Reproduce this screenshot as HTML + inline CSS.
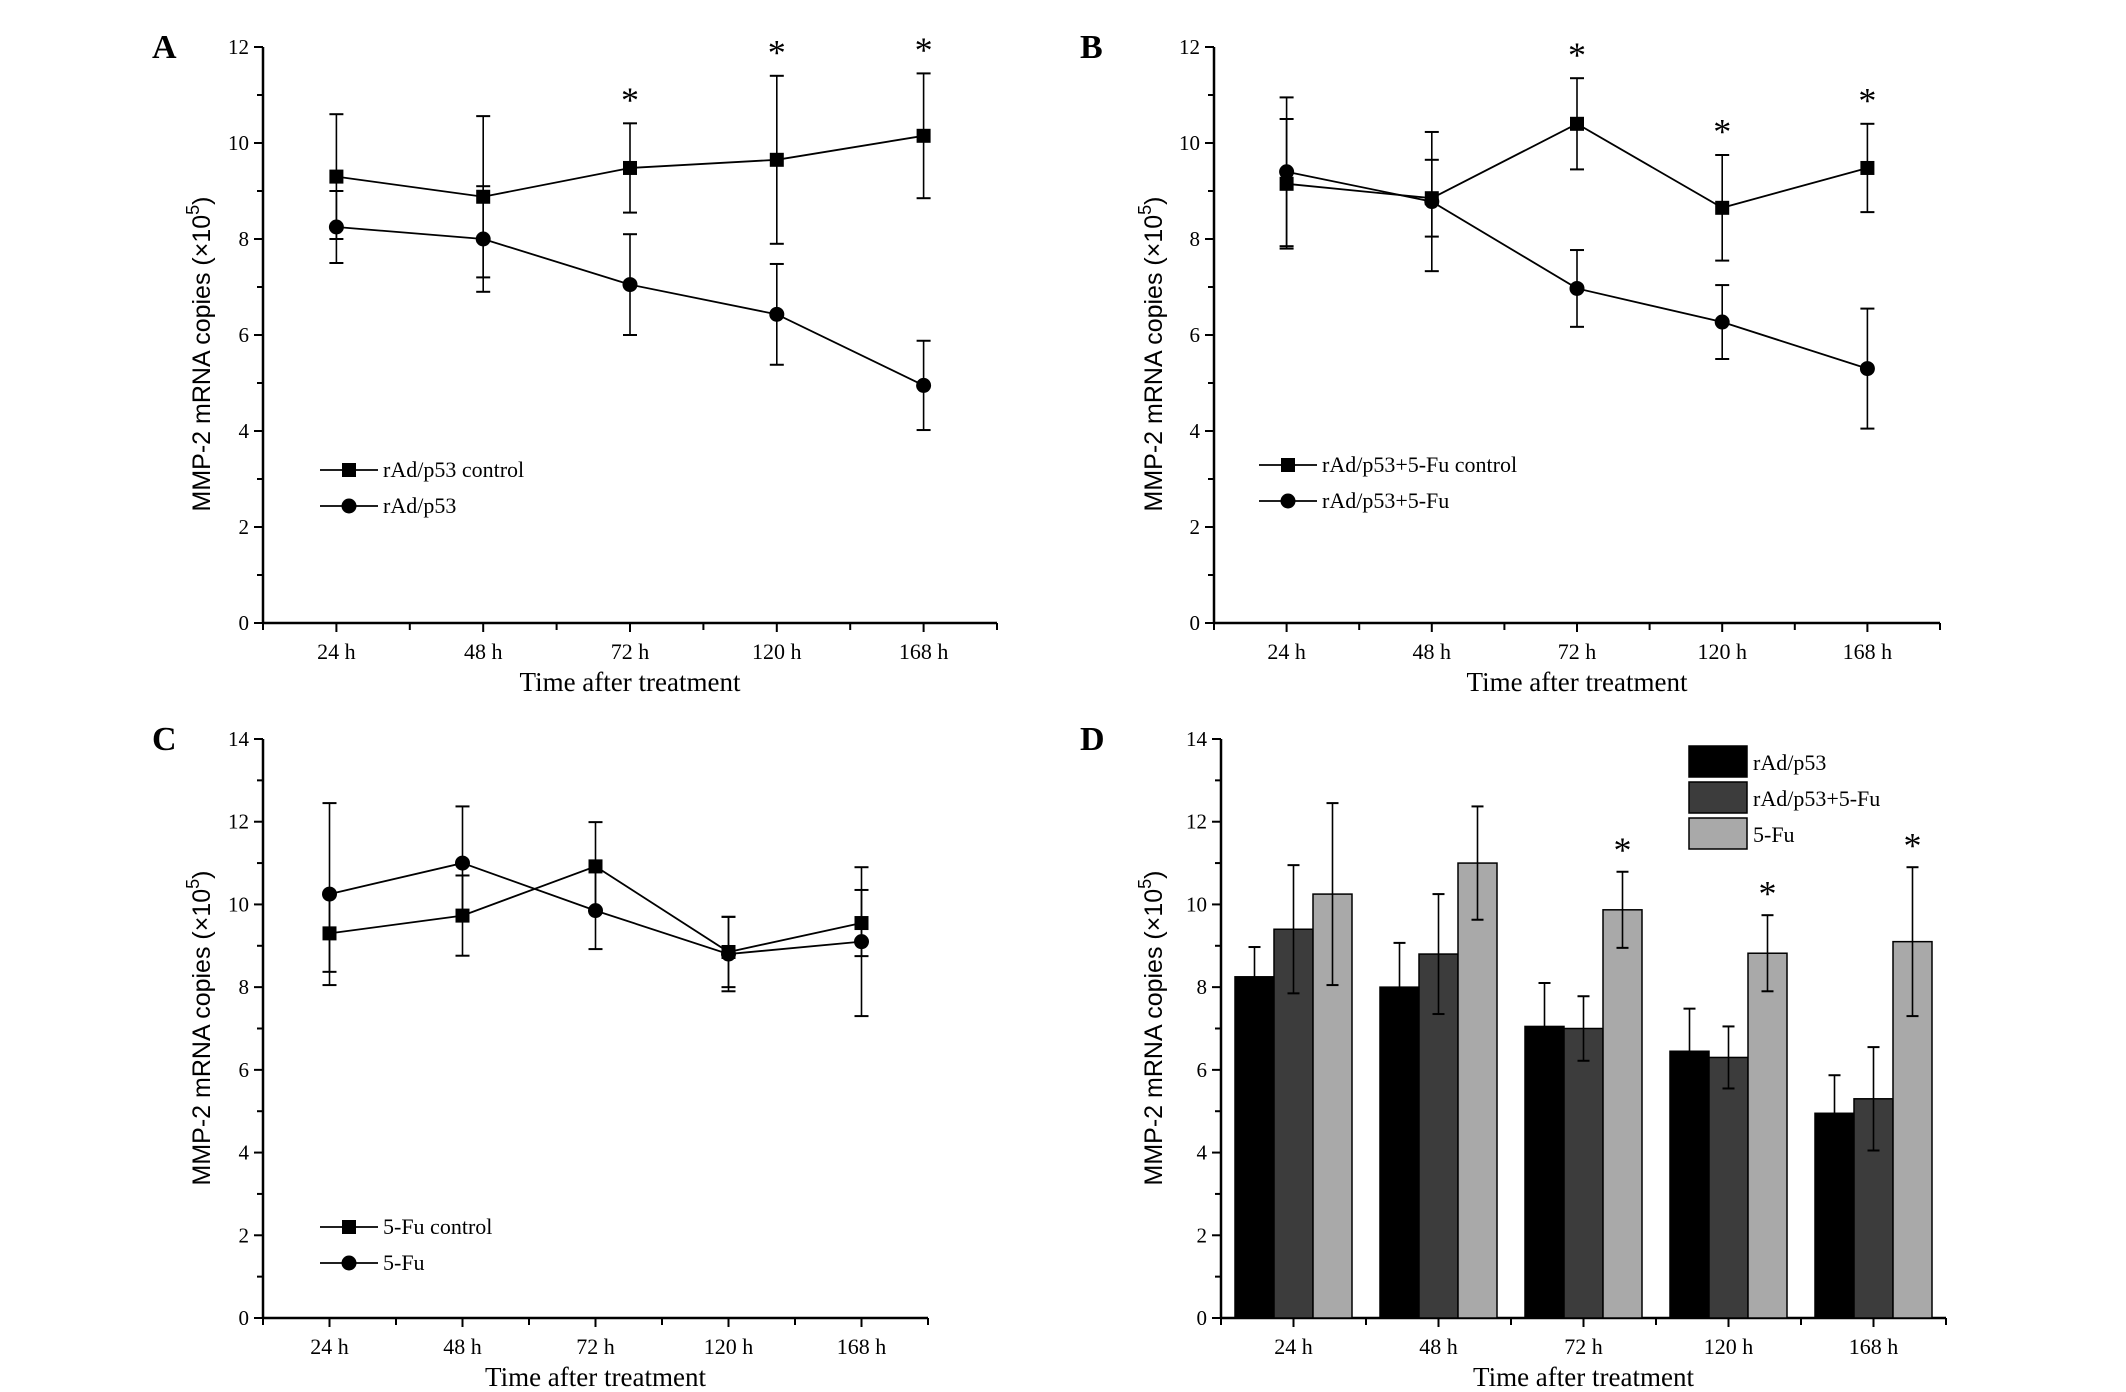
<!DOCTYPE html>
<html><head><meta charset="utf-8"><style>
html,body{margin:0;padding:0;background:#fff;}
svg{display:block;}
text{font-family:"Liberation Serif",serif;fill:#000;}
.ytitle{font-family:"Liberation Sans",sans-serif;font-size:25px;}
</style></head><body>
<svg id="fig" xmlns="http://www.w3.org/2000/svg" width="2126" height="1392" viewBox="0 0 2126 1392"></svg>
<script>
const categories = ["24 h","48 h","72 h","120 h","168 h"];
// Panel A
const aControl = [9.3, 8.88, 9.48, 9.65, 10.15];
const aControlErr = [1.3, 1.68, 0.93, 1.75, 1.3];
const aTreat = [8.25, 8.0, 7.05, 6.43, 4.95];
const aTreatErr = [0.75, 1.1, 1.05, 1.05, 0.93];
const aStars = [false, false, true, true, true];
// Panel B
const bControl = [9.15, 8.85, 10.4, 8.65, 9.48];
const bControlErr = [1.35, 0.8, 0.95, 1.1, 0.92];
const bTreat = [9.4, 8.78, 6.97, 6.27, 5.3];
const bTreatErr = [1.55, 1.45, 0.8, 0.77, 1.25];
const bStars = [false, false, true, true, true];
// Panel C
const cControl = [9.3, 9.73, 10.92, 8.85, 9.55];
const cControlErr = [0.93, 0.97, 1.07, 0.85, 0.8];
const cTreat = [10.25, 11.0, 9.85, 8.8, 9.1];
const cTreatErr = [2.2, 1.37, 0.93, 0.9, 1.8];
// Panel D
const dBlack = [8.25, 8.0, 7.05, 6.45, 4.95];
const dBlackErr = [0.72, 1.07, 1.05, 1.03, 0.92];
const dDark = [9.4, 8.8, 7.0, 6.3, 5.3];
const dDarkErr = [1.55, 1.45, 0.78, 0.75, 1.25];
const dLight = [10.25, 11.0, 9.87, 8.82, 9.1];
const dLightErr = [2.2, 1.37, 0.92, 0.92, 1.8];
const dStars = [false, false, true, true, true];

const NS = "http://www.w3.org/2000/svg";
const svg = document.getElementById("fig");
function el(tag, attrs, parent, txt){
  const e = document.createElementNS(NS, tag);
  for (const k in attrs) e.setAttribute(k, attrs[k]);
  if (txt !== undefined) e.textContent = txt;
  (parent || svg).appendChild(e);
  return e;
}

function makeAxes(p){
  const g = el("g", {});
  
  
  const y = v => p.y0 - (v / p.ymax) * (p.y0 - p.yTop);
  const bw = (p.x1 - p.x0) / categories.length;
  const x = i => p.x0 + bw * (i + 0.5);
  const ya = el("line", {x1:p.x0, y1:p.yTop, x2:p.x0, y2:p.y0+1, stroke:"#000","stroke-width":2.5}, g);
  
  
  const xa = el("line", {x1:p.x0-1, y1:p.y0, x2:p.x1, y2:p.y0, stroke:"#000","stroke-width":2.5}, g);
  
  
  for (let v = 0; v <= p.ymax; v++){
    const major = v % 2 === 0;
    el("line", {x1:p.x0 - (major?9:6), y1:y(v), x2:p.x0, y2:y(v), stroke:"#000","stroke-width":2}, g);
    if (major){
      const t = el("text", {x:p.x0-14, y:y(v)+7, "text-anchor":"end","font-size":21}, g, String(v));
      
      
    }
  }
  for (let k = 0; k <= 10; k++){
    const xx = p.x0 + bw * k / 2;
    el("line", {x1:xx, y1:p.y0, x2:xx, y2:p.y0 + (k%2===1?9:7), stroke:"#000","stroke-width":2}, g);
  }
  categories.forEach((c, i) => {
    const t = el("text", {x:x(i), y:p.y0+36, "text-anchor":"middle","font-size":22}, g, c);
    
    
  });
  const xt = el("text", {x:(p.x0+p.x1)/2, y:p.y0+68, "text-anchor":"middle","font-size":27}, g, "Time after treatment");
  
  
  const yt = el("text", {x:0, y:0, "text-anchor":"middle", class:"ytitle",
    transform:`translate(${p.titleX},${p.titleY}) rotate(-90)`}, g);
  
  
  el("tspan", {}, yt, "MMP-2 mRNA copies (×10");
  el("tspan", {dy:-11, "font-size":18}, yt, "5");
  el("tspan", {dy:11}, yt, ")");
  const pl = el("text", {x:p.letterX, y:p.letterY, "font-size":34, "font-weight":"bold"}, g, p.letter);
  
  
  return {g, x, y, bw};
}

function errBar(g, cx, v, e, ax, half){
  el("line", {x1:cx, y1:ax.y(v+e), x2:cx, y2:ax.y(v-e), stroke:"#000","stroke-width":1.6}, g);
  el("line", {x1:cx-half, y1:ax.y(v+e), x2:cx+half, y2:ax.y(v+e), stroke:"#000","stroke-width":2}, g);
  el("line", {x1:cx-half, y1:ax.y(v-e), x2:cx+half, y2:ax.y(v-e), stroke:"#000","stroke-width":2}, g);
}
function marker(g, type, cx, cy){
  if (type === "square") return el("rect", {x:cx-7, y:cy-7, width:14, height:14, fill:"#000"}, g);
  return el("circle", {cx:cx, cy:cy, r:7.5, fill:"#000"}, g);
}
function series(ax, vals, errs, type, name){
  const g = el("g", {}, ax.g);
  
  
  vals.forEach((v,i)=>errBar(g, ax.x(i), v, errs[i], ax, 7));
  el("polyline", {points: vals.map((v,i)=>ax.x(i)+","+ax.y(v)).join(" "), fill:"none", stroke:"#000","stroke-width":1.8}, g);
  vals.forEach((v,i)=>{
    const m = marker(g, type, ax.x(i), ax.y(v));
    
    
  });
}
function stars(ax, flags, vals, errs){
  flags.forEach((f,i)=>{
    if(!f) return;
    const s = el("text", {x:ax.x(i), y:ax.y(vals[i]+errs[i]+0.55)+15, "text-anchor":"middle","font-size":36}, ax.g, "*");
    
    
  });
}
function lineLegend(ax, lx, ly, labels){
  labels.forEach((lab,i)=>{
    const g = el("g", {}, ax.g);
    
    
    const yy = ly + i*36;
    el("line", {x1:lx, y1:yy, x2:lx+58, y2:yy, stroke:"#000","stroke-width":1.8}, g);
    marker(g, i===0?"square":"circle", lx+29, yy);
    el("text", {x:lx+63, y:yy+7, "font-size":22}, g, lab);
  });
}

const A = makeAxes({name:"panel-a", x0:263, x1:997, yTop:47, y0:623, ymax:12, titleX:210, titleY:354, letter:"A", letterX:152, letterY:58});
series(A, aControl, aControlErr, "square", "series-rad-p53-control");
series(A, aTreat, aTreatErr, "circle", "series-rad-p53");
stars(A, aStars, aControl, aControlErr);
lineLegend(A, 320, 470, ["rAd/p53 control", "rAd/p53"]);

const B = makeAxes({name:"panel-b", x0:1214, x1:1940, yTop:47, y0:623, ymax:12, titleX:1162, titleY:354, letter:"B", letterX:1080, letterY:58});
series(B, bControl, bControlErr, "square", "series-rad-p53-5fu-control");
series(B, bTreat, bTreatErr, "circle", "series-rad-p53-5fu");
stars(B, bStars, bControl, bControlErr);
lineLegend(B, 1259, 465, ["rAd/p53+5-Fu control", "rAd/p53+5-Fu"]);

const C = makeAxes({name:"panel-c", x0:263, x1:928, yTop:739, y0:1318, ymax:14, titleX:210, titleY:1028, letter:"C", letterX:152, letterY:750});
series(C, cControl, cControlErr, "square", "series-5fu-control");
series(C, cTreat, cTreatErr, "circle", "series-5fu");
lineLegend(C, 320, 1227, ["5-Fu control", "5-Fu"]);

const D = makeAxes({name:"panel-d", x0:1221, x1:1946, yTop:739, y0:1318, ymax:14, titleX:1162, titleY:1028, letter:"D", letterX:1080, letterY:750});
const barSets = [[dBlack,dBlackErr,"#000","bar-rad-p53"],[dDark,dDarkErr,"#3c3c3c","bar-rad-p53-5fu"],[dLight,dLightErr,"#a9a9a9","bar-5fu"]];
const barW = 39;
barSets.forEach((s, k)=>{
  s[0].forEach((v,i)=>{
    const left = D.x(i) - 1.5*barW + k*barW;
    const r = el("rect", {x:left, y:D.y(v), width:barW, height:D.y(0)-D.y(v), fill:s[2], stroke:"#000","stroke-width":1.5}, D.g);
    
    
  });
});
barSets.forEach((s, k)=>{
  s[0].forEach((v,i)=>{
    const cx = D.x(i) - barW + k*barW;
    errBar(D.g, cx, v, s[1][i], D, 6);
  });
});
const lightX = i => D.x(i) + barW;
dStars.forEach((f,i)=>{
  if(!f) return;
  const s = el("text", {x:lightX(i), y:D.y(dLight[i]+dLightErr[i]+0.6)+15, "text-anchor":"middle","font-size":36}, D.g, "*");
  
  
});
["rAd/p53","rAd/p53+5-Fu","5-Fu"].forEach((lab,i)=>{
  const g = el("g", {}, D.g);
  
  
  const yy = 746 + i*36;
  el("rect", {x:1689, y:yy, width:58, height:31, fill:barSets[i][2], stroke:"#000","stroke-width":1.5}, g);
  el("text", {x:1753, y:yy+24, "font-size":22}, g, lab);
});
</script>
</body></html>
